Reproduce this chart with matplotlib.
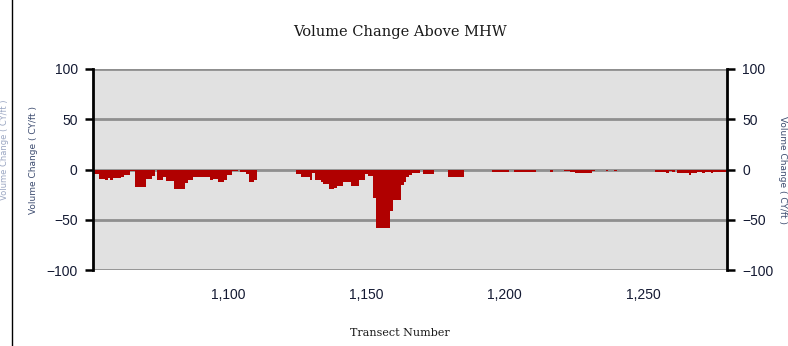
import matplotlib.pyplot as plt
from matplotlib.lines import Line2D
from matplotlib.ticker import FuncFormatter

# transect numbers 1052..1280, one value each (CY/ft)
transects = list(range(1052, 1281))
volume_change = [
    -4, -4, -9, -9, -10, -8, -10, -8, -8, -8,          # 1052-1061
    -7, -5, -5, -1, -1, -17, -17, -17, -17, -9,         # 1062-1071
    -9, -6, 0, -10, -10, -7, -11, -11, -11, -19,        # 1072-1081
    -19, -19, -19, -13, -10, -10, -7, -7, -7, -7,       # 1082-1091
    -7, -7, -10, -9, -9, -12, -12, -10, -5, -5,         # 1092-1101
    -1, -1, 0, -2, -2, -4, -12, -12, -10, 0,            # 1102-1111
    0, 0, 0, 0, 0, 0, 0, 0, 0, 0,                       # 1112-1121
    0, 0, 0, -4, -4, -7, -7, -7, -10, -3,               # 1122-1131
    -10, -10, -12, -14, -14, -19, -19, -18, -16, -16,   # 1132-1141
    -12, -12, -12, -16, -16, -16, -10, -10, -4, -6,     # 1142-1151
    -6, -28, -58, -58, -58, -58, -58, -41, -30, -30,    # 1152-1161
    -30, -15, -12, -7, -5, -3, -3, -3, 0, -4,           # 1162-1171
    -4, -4, -4, 0, 0, 0, 0, 0, -7, -7,                  # 1172-1181
    -7, -7, -7, -7, 0, 0, 0, 0, 0, 0,                   # 1182-1191
    0, 0, 0, 0, -2, -2, -2, -2, -2, -2,                 # 1192-1201
    0, 0, -2, -2, -2, -2, -2, -2, -2, -2,               # 1202-1211
    0, 0, 0, 0, 0, -2, 0, 0, 0, 0,                      # 1212-1221
    -1, -1, -2, -2, -3, -3, -3, -3, -3, -3,             # 1222-1231
    -1, 0, 0, 0, 0, -1, 0, 0, -1, 0,                    # 1232-1241
    0, 0, 0, 0, 0, 0, 0, 0, 0, 0,                       # 1242-1251
    0, 0, 0, -2, -2, -2, -2, -3, -1, -2,                # 1252-1261
    0, -3, -3, -3, -3, -5, -3, -3, -2, -2,              # 1262-1271
    -3, -2, -2, -3, -2, -2, -2, -2, -2,                 # 1272-1280
]
y_ticks = [-100, -50, 0, 50, 100]
x_ticks = [1100, 1150, 1200, 1250]

label_color = '#141a33'
ylab_color = '#3d4c70'

fig = plt.figure(figsize=(7.88, 3.46), dpi=100)
fig.patch.set_facecolor('white')
ax = fig.add_axes([93 / 788, 1 - 270 / 346, 634 / 788, 201 / 346])
ax.set_facecolor('#e1e1e1')

for v in [-50, 0, 50, 100, -100]:
    ax.axhline(v, color='#8f8f8f', lw=2.0, zorder=1)

ax.bar(transects, volume_change, width=1.0, color='#b00000', edgecolor='none', zorder=2)

ax.set_xlim(1051.2, 1280.4)
ax.set_ylim(-100, 100)
ax.set_yticks(y_ticks)
ax.set_xticks(x_ticks)
ax.xaxis.set_major_formatter(FuncFormatter(lambda v, p: f"{int(v):,}"))

ax.tick_params(axis='y', which='both', direction='out', length=6, width=1.8,
               color='black', left=True, right=True, labelleft=True, labelright=True,
               labelsize=10, labelcolor=label_color, pad=5)
ax.tick_params(axis='x', length=0, labelsize=10, labelcolor=label_color, pad=13)
for lab in ax.get_xticklabels() + ax.get_yticklabels():
    lab.set_family(['Liberation Sans', 'DejaVu Sans'])

for side in ['left', 'right']:
    ax.spines[side].set_linewidth(2.0)
    ax.spines[side].set_color('black')
for side in ['top', 'bottom']:
    ax.spines[side].set_visible(False)

fig.text(0.507, 1 - 32 / 346, 'Volume Change Above MHW', ha='center', va='center',
         family='DejaVu Serif', fontsize=10.5, color='#1a1a1a')
fig.text(400 / 788, 1 - 333 / 346, 'Transect Number', ha='center', va='center',
         family='DejaVu Serif', fontsize=8, color='#1a1a1a')
fig.text(33 / 788, 1 - 160 / 346, 'Volume Change ( CY/ft )', rotation=90, ha='center',
         va='center', fontsize=6.5, color=ylab_color)
fig.text(783 / 788, 1 - 170 / 346, 'Volume Change ( CY/ft )', rotation=270, ha='center',
         va='center', fontsize=6.5, color=ylab_color)
# faint label of the neighbouring chart at the far left
fig.text(5 / 788, 1 - 150 / 346, 'Volume Change ( CY/ft )', rotation=90, ha='center',
         va='center', fontsize=6, color='#9aa6c2')

# frame line on the left
fig.add_artist(Line2D([12 / 788, 12 / 788], [0, 1], transform=fig.transFigure,
                      color='black', lw=1.0))

fig.savefig('out.png', dpi=100)
